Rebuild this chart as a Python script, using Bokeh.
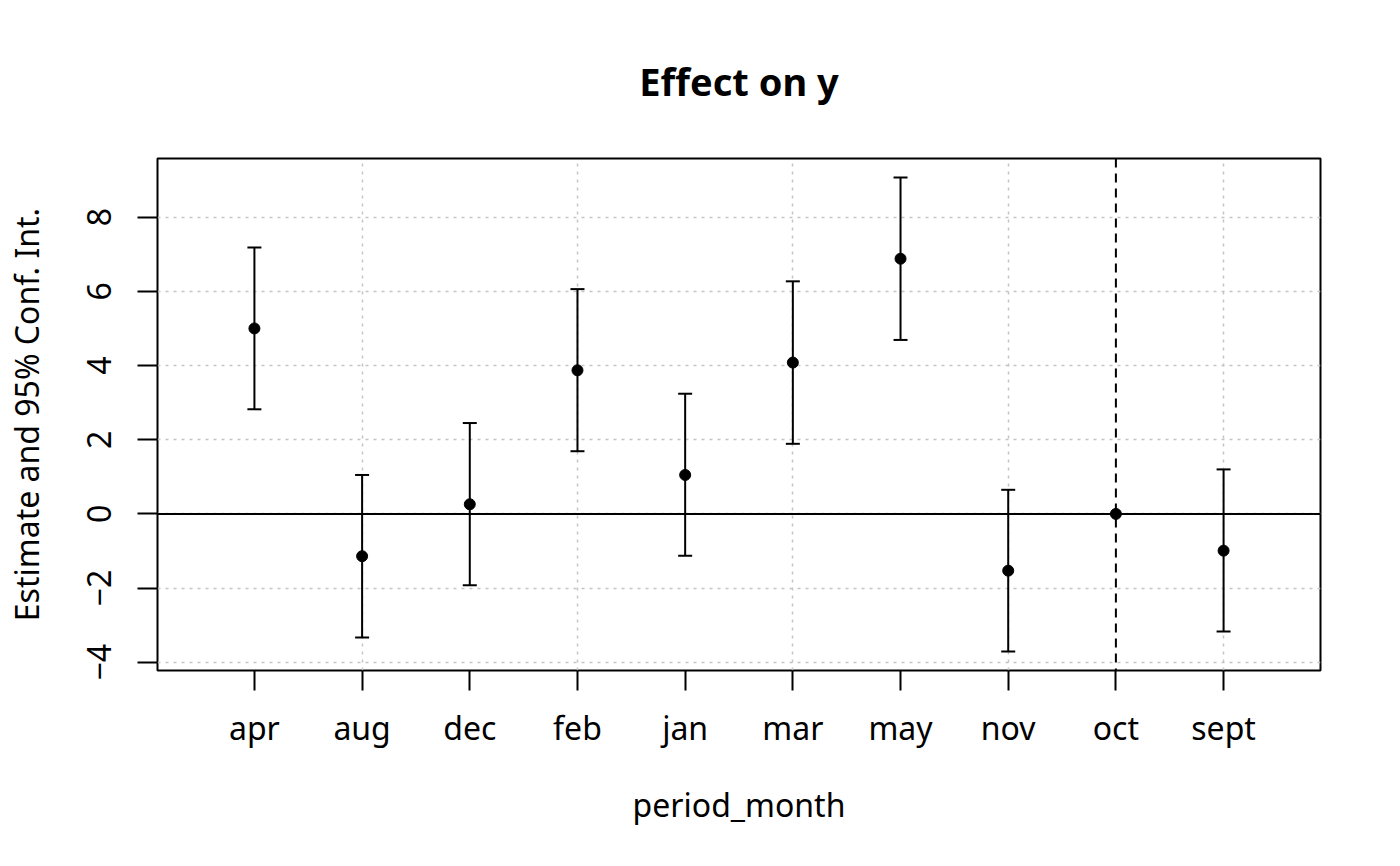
import numpy as np
from bokeh.plotting import figure
from bokeh.models import Range1d, Span, SingleIntervalTicker, FixedTicker, ColumnDataSource
from bokeh.embed import file_html
from bokeh.resources import INLINE

# ---- data ----
months = ["apr", "aug", "dec", "feb", "jan", "mar", "may", "nov", "oct", "sept"]
estimate = [5.00, -1.14, 0.26, 3.87, 1.05, 4.08, 6.88, -1.53, 0.00, -0.99]
ci_low = [2.82, -3.33, -1.92, 1.69, -1.13, 1.89, 4.69, -3.71, 0.00, -3.17]
ci_high = [7.18, 1.05, 2.45, 6.06, 3.24, 6.27, 9.07, 0.65, 0.00, 1.20]
ref_month = "oct"
y_ticks_step = 2

title_text = "Effect on y"
x_label = "period_month"
y_label = "Estimate and 95% Conf. Int."

FONT = "Noto Sans"

n = len(months)
xpos = np.arange(1, n + 1)
lo = np.array(ci_low)
hi = np.array(ci_high)
est = np.array(estimate)

# R style 4% axis extension
x0, x1 = 0.5, n + 0.5
xpad = 0.04 * (x1 - x0)
ymin, ymax = lo.min(), hi.max()
ypad = 0.04 * (ymax - ymin)

p = figure(
    width=1384, height=850,
    x_range=Range1d(x0 - xpad, x1 + xpad),
    y_range=Range1d(ymin - ypad, ymax + ypad),
    output_backend="svg", toolbar_location=None,
    min_border_left=157, min_border_right=64,
    min_border_top=157, min_border_bottom=180,
)
p.background_fill_color = "white"
p.border_fill_color = "white"
p.outline_line_color = "black"
p.outline_line_width = 2

# title
p.title.text = title_text
p.title.text_font = FONT
p.title.text_font_size = "38px"
p.title.text_font_style = "bold"
p.title.text_color = "black"
p.title.align = "center"
p.title.standoff = 104

# grids
p.xgrid.ticker = SingleIntervalTicker(interval=2)
p.ygrid.ticker = SingleIntervalTicker(interval=y_ticks_step)
for g in (p.xgrid, p.ygrid):
    g.grid_line_color = "#C4C4C4"
    g.grid_line_dash = "3 5"
    g.grid_line_width = 1.5

# axes
p.xaxis.ticker = FixedTicker(ticks=list(xpos))
p.xaxis.major_label_overrides = {int(i): m for i, m in zip(xpos, months)}
p.yaxis.ticker = SingleIntervalTicker(interval=y_ticks_step)
for ax in (p.xaxis, p.yaxis):
    ax.axis_line_color = None
    ax.major_tick_line_color = "black"
    ax.major_tick_line_width = 2
    ax.major_tick_out = 20
    ax.major_tick_in = 0
    ax.minor_tick_line_color = None
    ax.major_label_text_font = FONT
    ax.major_label_text_font_size = "32px"
    ax.major_label_text_color = "black"
    ax.axis_label_text_font = FONT
    ax.axis_label_text_font_size = "32px"
    ax.axis_label_text_font_style = "normal"
    ax.axis_label_text_color = "black"

p.xaxis.axis_label = x_label
p.yaxis.axis_label = y_label
p.xaxis.major_label_standoff = 15
p.xaxis.axis_label_standoff = 31
p.yaxis.major_label_orientation = "vertical"
p.yaxis.major_label_standoff = 26
p.yaxis.axis_label_standoff = 37

# reference lines
p.add_layout(Span(location=0, dimension="width", line_color="black", line_width=2))
p.add_layout(Span(location=float(xpos[months.index(ref_month)]), dimension="height",
                  line_color="black", line_width=2, line_dash="9 6"))

# error bars (skip zero-width intervals, as R's arrows does)
mask = (hi - lo) > 0
bars = ColumnDataSource(dict(x=xpos[mask], lo=lo[mask], hi=hi[mask]))
p.segment(x0="x", y0="lo", x1="x", y1="hi", source=bars, line_color="black", line_width=2)
p.scatter(x="x", y="lo", source=bars, marker="dash", size=14, line_color="black", line_width=2)
p.scatter(x="x", y="hi", source=bars, marker="dash", size=14, line_color="black", line_width=2)

# point estimates
p.scatter(x=xpos, y=est, marker="circle", size=11, fill_color="black", line_color="black")

open("out.html", "w").write(file_html(p, INLINE))
